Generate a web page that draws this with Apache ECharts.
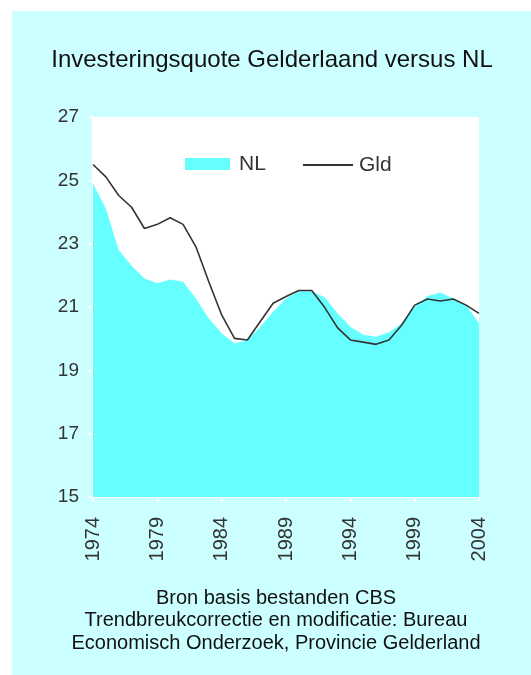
<!DOCTYPE html>
<html>
<head>
<meta charset="utf-8">
<script src="https://cdn.jsdelivr.net/npm/echarts@6/dist/echarts.min.js"></script>
<style>
html,body{margin:0;padding:0;background:#fff;}
#bg{position:absolute;left:12px;top:11px;width:519px;height:664px;background:#ccffff;}
#chart{position:absolute;left:0;top:0;width:531px;height:675px;}
</style>
</head>
<body>
<div id="bg"></div>
<div id="chart"></div>
<script>
const years = [];
for (let y = 1974; y <= 2004; y++) years.push(String(y));
const nlValues = [24.9, 24.1, 22.8, 22.3, 21.9, 21.75, 21.87, 21.8, 21.27, 20.64,
  20.17, 19.85, 19.96, 20.38, 20.85, 21.27, 21.5, 21.5, 21.31, 20.8,
  20.38, 20.12, 20.06, 20.2, 20.49, 21.01, 21.35, 21.46, 21.27, 21.06, 20.49];
const gldValues = [25.5, 25.11, 24.52, 24.15, 23.48, 23.61, 23.82, 23.61, 22.9, 21.8,
  20.75, 20.01, 19.96, 20.54, 21.12, 21.33, 21.52, 21.52, 20.99, 20.35,
  19.96, 19.89, 19.82, 19.96, 20.43, 21.06, 21.25, 21.19, 21.25, 21.06, 20.8];
const titleText = 'Investeringsquote Gelderlaand versus NL';
const footerLines = ['Bron basis bestanden CBS', 'Trendbreukcorrectie en modificatie: Bureau', 'Economisch Onderzoek, Provincie Gelderland'];
const seriesNames = ['NL', 'Gld'];

const font = 'Liberation Sans, Arial, sans-serif';
const chart = echarts.init(document.getElementById('chart'), null, {renderer: 'canvas'});
chart.setOption({
  backgroundColor: 'transparent',
  animation: false,
  title: [
    {text: titleText, left: 272, top: 48, textAlign: 'center', padding: 0,
     textStyle: {fontFamily: font, fontSize: 24, fontWeight: 'normal', color: '#111'}},
    {text: footerLines.join('\n'), left: 276, top: 587, textAlign: 'center', padding: 0,
     textStyle: {fontFamily: font, fontSize: 20, fontWeight: 'normal', color: '#111', lineHeight: 22.5}}
  ],
  legend: [
    {data: [{name: seriesNames[0], icon: 'rect'}], left: 185, top: 153.5, itemWidth: 45, itemHeight: 12, itemGap: 0,
     textStyle: {fontFamily: font, fontSize: 21, color: '#333', padding: [0, 0, 0, 4]}, padding: 0},
    {data: [{name: seriesNames[1], icon: 'rect', itemStyle: {color: '#333333'}}], left: 303, top: 154.5, itemWidth: 50, itemHeight: 2, itemGap: 0,
     textStyle: {fontFamily: font, fontSize: 21, color: '#333', padding: [0, 0, 0, 1]}, padding: 0}
  ],
  grid: {left: 93, top: 117, right: 52, bottom: 178, show: true, backgroundColor: '#ffffff', borderWidth: 0, containLabel: false},
  xAxis: {
    type: 'category', data: years, boundaryGap: false,
    axisLine: {show: true, lineStyle: {color: '#ffffff', width: 2}},
    axisTick: {show: true, interval: 4, length: 4, lineStyle: {color: '#ffffff', width: 2}},
    axisLabel: {interval: 4, rotate: 90, margin: 20, fontFamily: font, fontSize: 20, color: '#333'},
    splitLine: {show: false}
  },
  yAxis: {
    type: 'value', min: 15, max: 27, interval: 2,
    axisLine: {show: true, lineStyle: {color: '#ffffff', width: 2}},
    axisTick: {show: true, length: 4, lineStyle: {color: '#ffffff', width: 2}},
    axisLabel: {margin: 14, fontFamily: font, fontSize: 19, color: '#333'},
    splitLine: {show: false}
  },
  series: [
    {name: seriesNames[0], type: 'line', data: nlValues, symbol: 'none', showSymbol: false,
     itemStyle: {color: '#66ffff'}, lineStyle: {width: 0, color: '#66ffff'},
     areaStyle: {color: '#66ffff', opacity: 1, origin: 'start'}, z: 1},
    {name: seriesNames[1], type: 'line', data: gldValues, symbol: 'none', showSymbol: false,
     itemStyle: {color: '#333333'}, lineStyle: {width: 1.6, color: '#333333'}, z: 3}
  ]
});
</script>
</body>
</html>
